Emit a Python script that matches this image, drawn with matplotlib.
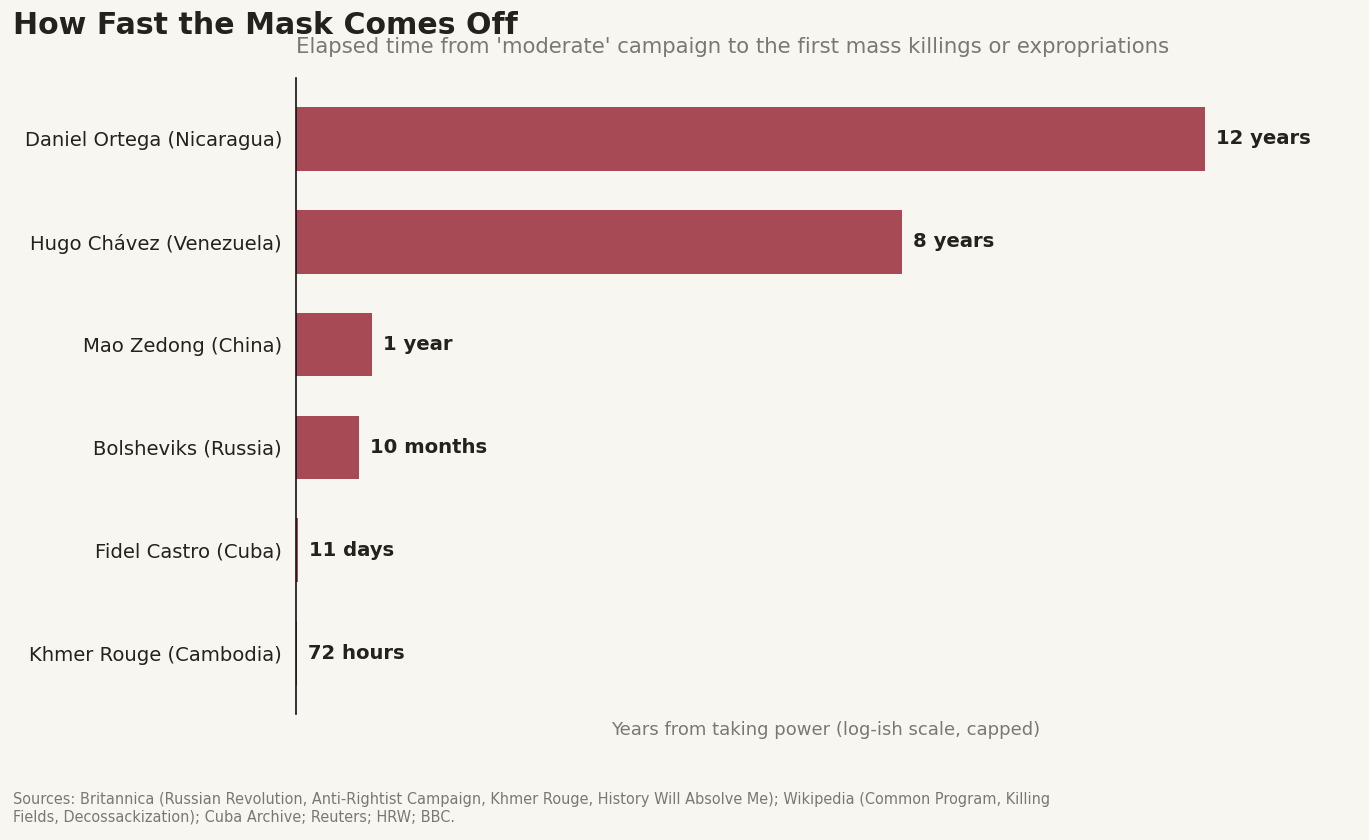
import matplotlib
matplotlib.use("Agg")
import matplotlib.pyplot as plt

plt.rcParams["font.family"] = ["DejaVu Sans"]

# data, top to bottom
leaders = ["Daniel Ortega (Nicaragua)", "Hugo Chávez (Venezuela)", "Mao Zedong (China)",
           "Bolsheviks (Russia)", "Fidel Castro (Cuba)", "Khmer Rouge (Cambodia)"]
years = [12, 8, 1, 10 / 12, 11 / 365, 3 / 365]
labels = ["12 years", "8 years", "1 year", "10 months", "11 days", "72 hours"]

bg = "#f8f6f1"
bar_color = "#a84a55"
dark = "#23221c"
grey = "#7a7873"

fig = plt.figure(figsize=(13.69, 8.4), dpi=100, facecolor=bg)
ax = fig.add_axes([0.2162, 0.15, 0.7743, 0.7571], facecolor=bg)

pos = range(len(leaders))
ax.barh(pos, years, height=0.62, color=bar_color)
for y, v, lab in zip(pos, years, labels):
    ax.annotate(lab, (v, y), xytext=(8, 0), textcoords="offset points",
                va="center", ha="left", fontsize=14.1, fontweight="bold", color=dark)

ax.set_yticks(list(pos))
ax.set_yticklabels(leaders, fontsize=14.1, color=dark)
ax.invert_yaxis()
ax.set_xlim(0, 14)
ax.set_xticks([])
ax.tick_params(axis="y", length=0, pad=10)
for s in ["top", "right", "bottom"]:
    ax.spines[s].set_visible(False)
ax.spines["left"].set_color("#111111")
ax.spines["left"].set_linewidth(1.2)

ax.set_xlabel("Years from taking power (log-ish scale, capped)", fontsize=13, color=grey, labelpad=5)
ax.set_title("Elapsed time from 'moderate' campaign to the first mass killings or expropriations",
             loc="left", fontsize=15.3, color=grey, pad=18)

fig.text(0.0095, 0.97, "How Fast the Mask Comes Off", fontsize=21.6, fontweight="bold",
         color=dark, va="center", ha="left")
fig.text(0.0095, 0.038,
         "Sources: Britannica (Russian Revolution, Anti-Rightist Campaign, Khmer Rouge, History Will Absolve Me); Wikipedia (Common Program, Killing\n"
         "Fields, Decossackization); Cuba Archive; Reuters; HRW; BBC.",
         fontsize=10.45, color=grey, va="center", ha="left", linespacing=1.2)

fig.savefig("out.png", facecolor=bg)
